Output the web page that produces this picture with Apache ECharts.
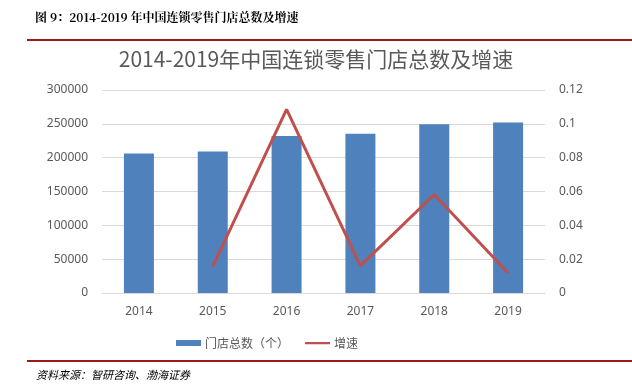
<!DOCTYPE html>
<html><head><meta charset="utf-8">
<script src="https://cdn.jsdelivr.net/npm/echarts@6/dist/echarts.min.js"></script>
<style>html,body{margin:0;padding:0;background:#fff}#c{width:632px;height:389px}</style>
</head><body><div id="c"></div>
<script>
const years = ['2014','2015','2016','2017','2018','2019'];
const storeCount = [206000, 209000, 232000, 235500, 249500, 252000];
const growth = [null, 0.0157, 0.1085, 0.016, 0.0582, 0.0118];
const leftTicks = {min: 0, max: 300000, interval: 50000};
const rightTicks = {min: 0, max: 0.12, interval: 0.02};
const chart = echarts.init(document.getElementById('c'));
const grey = '#595959';
chart.setOption({
  animation: false,
  title: {
    text: '2014-2019年中国连锁零售门店总数及增速',
    left: 'center', top: 44,
    textStyle: {fontFamily: 'Noto Sans CJK SC', fontSize: 21, fontWeight: 'normal', color: grey}
  },
  graphic: [
    {type: 'text', left: 35, top: 11, style: {text: '图 9：2014-2019 年中国连锁零售门店总数及增速', fontFamily: 'Noto Serif CJK SC, Noto Sans CJK SC', fontWeight: 'bold', fontSize: 12, fill: '#000'}},
    {type: 'rect', shape: {x: 27, y: 39, width: 605, height: 2}, style: {fill: '#9B1B1B'}},
    {type: 'rect', shape: {x: 27, y: 360, width: 605, height: 2}, style: {fill: '#9B1B1B'}},
    {type: 'text', left: 36, top: 369, style: {text: '资料来源：智研咨询、渤海证券', fontFamily: 'Noto Sans CJK SC', fontStyle: 'italic', fontSize: 11, fill: '#000'}}
  ],
  legend: {
    bottom: 35, left: 171, itemGap: 16, itemWidth: 25, itemHeight: 6,
    textStyle: {fontFamily: 'Noto Sans CJK SC', fontSize: 12, color: grey, padding: [0, 0, 0, -1]},
    data: [
      {name: '门店总数（个）', icon: 'rect'},
      {name: '增速', icon: 'path://M0,0h1v0.01h-1zM0,2h26v2.2h-26zM0,6h1v0.01h-1z', itemStyle: {color: '#C0504D'}}
    ]
  },
  grid: {left: 102, right: 87, top: 90, bottom: 96},
  xAxis: {
    type: 'category', data: years,
    axisLine: {lineStyle: {color: '#D9D9D9'}}, axisTick: {show: false},
    axisLabel: {color: grey, fontFamily: 'Noto Sans', fontSize: 12, margin: 13}
  },
  yAxis: [
    {type: 'value', min: leftTicks.min, max: leftTicks.max, interval: leftTicks.interval,
     axisLine: {show: false}, axisTick: {show: false},
     splitLine: {lineStyle: {color: '#D9D9D9'}},
     axisLabel: {color: grey, fontSize: 12, fontFamily: 'Noto Sans', margin: 14, formatter: v => String(v)}},
    {type: 'value', min: rightTicks.min, max: rightTicks.max, interval: rightTicks.interval,
     axisLine: {show: false}, axisTick: {show: false}, splitLine: {show: false},
     axisLabel: {color: grey, fontSize: 12, fontFamily: 'Noto Sans', margin: 14, formatter: v => String(+v.toFixed(2))}}
  ],
  series: [
    {name: '门店总数（个）', type: 'bar', data: storeCount, barWidth: 30,
     itemStyle: {color: '#4F81BD'}},
    {name: '增速', type: 'line', yAxisIndex: 1, data: growth, symbol: 'none',
     lineStyle: {color: '#C0504D', width: 3}, itemStyle: {color: '#C0504D'}}
  ]
});
</script></body></html>
